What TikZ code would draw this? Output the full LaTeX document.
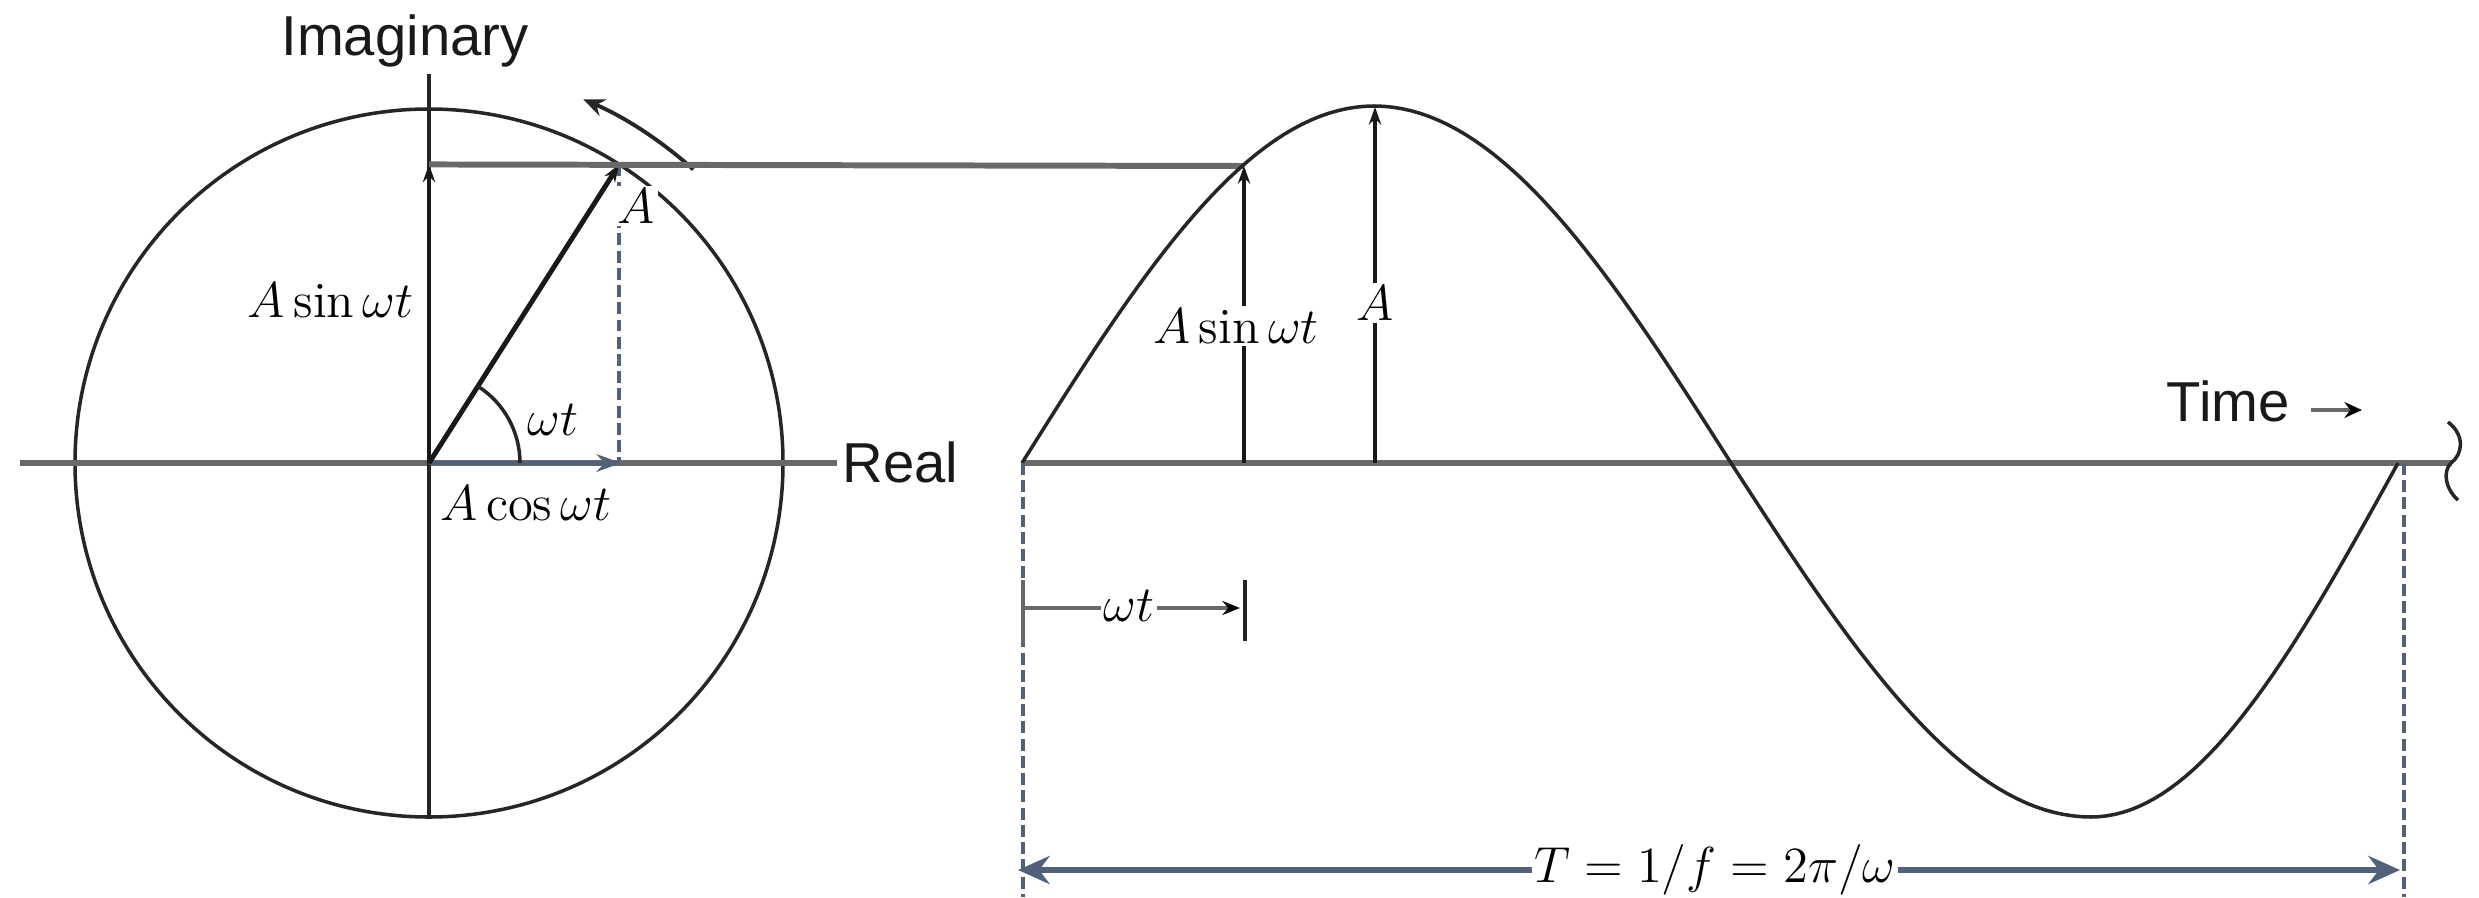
\documentclass[tikz,border=0pt]{standalone}
\usepackage{fontspec}
\newfontfamily\labelsans{Liberation Sans}
\usetikzlibrary{arrows.meta,calc}
\definecolor{slate}{RGB}{82,97,122}
\definecolor{axisgray}{RGB}{105,105,105}
\begin{document}
\begin{tikzpicture}[x=0.01cm,y=-0.01cm,
  thinline/.style={line width=1pt,black!85},
  vecline/.style={line width=1.2pt,black!90},
  axisline/.style={line width=1.7pt,axisgray},
  slateline/.style={line width=1.3pt,slate},
  dashline/.style={line width=1.2pt,slate,dash pattern=on 3.4pt off 1.5pt},
  mathlbl/.style={font=\fontsize{14.4}{17}\selectfont,inner sep=0.8pt},
  sanslbl/.style={font=\labelsans\fontsize{16}{19}\selectfont,inner sep=0pt,text=black!90},
  whitebg/.style={fill=white},
  smalltip/.style={-{Stealth[length=5pt,width=3.5pt]}}]
\useasboundingbox (0,0) rectangle (2479,897);

% ---------- phasor diagram ----------
\coordinate (O) at (429,463);
\coordinate (P) at ($(O)+(-57.5:354)$);
\coordinate (Py) at (O |- P);
\coordinate (Px) at (P |- O);
\coordinate (imtop) at (429,74);
\coordinate (imbot) at (429,817);
\coordinate (reL) at (20,463);
\coordinate (reR) at (837,463);

\draw[thinline] (O) circle[x radius=354,y radius=354];
\draw[axisline] (reL) -- (reR);
\draw[thinline] (imtop) -- (imbot);
\draw[dashline] (P) -- (Px);
\draw[slateline,-{Stealth[length=7pt,width=5pt]}] (O) -- ($(Px)+(2,0)$);
\draw[vecline,smalltip] (O) -- (Py);
\draw[vecline,line width=1.4pt,smalltip] (O) -- (P);
\draw[thinline] ($(O)+(91,0)$) arc[start angle=0,end angle=-57.5,radius=91];
\draw[thinline,line width=1.1pt,-{Stealth[length=6pt,width=5pt]}] ($(O)+(-48:395)$) arc[start angle=-48,end angle=-67,radius=395];

% ---------- sine wave ----------
\coordinate (s0) at (1022,463);
\coordinate (s1) at (1244,166);
\coordinate (s1b) at (1244,463);
\coordinate (pk) at (1375,107);
\coordinate (pkb) at (1375,463);
\coordinate (tEnd) at (2452,463);

\draw[axisline] (Py) -- (s1);
\draw[axisline] (s0) -- (tEnd);
\draw[thinline] plot[domain=0:90,samples=40] ({1022+\x/90*352},{463-357*sin(\x)})
  -- plot[domain=90:180,samples=40] ({1374+(\x-90)/90*357},{463-357*sin(\x)})
  -- plot[domain=180:270,samples=40] ({1731+(\x-180)/90*360},{463-354*sin(\x)})
  -- plot[domain=270:360,samples=40] ({2091+(\x-270)/90*307},{463-354*sin(\x)});
\draw[vecline,line width=1.1pt,smalltip] (s1b) -- (s1);
\draw[vecline,line width=1.1pt,smalltip] (pkb) -- (pk);

% break mark
\coordinate (b1) at (2448,422);
\coordinate (b2) at (2451,463);
\coordinate (b3) at (2458,500);
\draw[thinline] (b1) .. controls (2466,436) and (2462,455) .. (b2)
  .. controls (2442,472) and (2446,490) .. (b3);

% dashed period markers
\coordinate (dL0) at (1023,463);
\coordinate (dL1) at (1023,897);
\coordinate (dR0) at (2404,463);
\coordinate (dR1) at (2404,897);
\draw[dashline] (dL0) -- (dL1);
\draw[dashline] (dR0) -- (dR1);

% omega t dimension
\coordinate (wL) at (1023,608);
\coordinate (wR) at (1240,608);
\coordinate (wtk1) at (1245,580);
\coordinate (wtk2) at (1245,641);
\coordinate (wtl1) at (1023,580);
\coordinate (wtl2) at (1023,643);
\draw[axisline,line width=1.4pt] (wtl1) -- (wtl2);
\draw[thinline] (wtk1) -- (wtk2);
\draw[axisline,line width=1.4pt,-{Stealth[length=5pt,width=4pt,color=black]}] (wL) -- (wR);
\node[mathlbl,whitebg] (wtd) at (1129,606) {$\omega t$};

% period arrow
\coordinate (TL) at (1018,870);
\coordinate (TR) at (2400,870);
\draw[slateline,line width=1.6pt,{Stealth[length=9pt,width=8pt,inset=3pt]}-{Stealth[length=9pt,width=8pt,inset=3pt]}] (TL) -- (TR);
\node[mathlbl,whitebg,anchor=base] (Tlbl) at (1715,882) {$T=1/f=2\pi/\omega$};

% time arrow
\coordinate (ta0) at (2311,410);
\coordinate (ta1) at (2362,410);
\draw[axisline,line width=1.4pt,-{Stealth[length=5pt,width=4.5pt,color=black]}] (ta0) -- (ta1);

% ---------- labels ----------
\node[sanslbl,anchor=base] (imag) at (405,55) {Imaginary};
\node[sanslbl,anchor=base west] (real) at (842,482) {Real};
\node[sanslbl,anchor=base west] (time) at (2166,421) {Time};

\node[mathlbl,anchor=base east] (asinL) at (417,317) {$A\sin\omega t$};
\node[mathlbl,anchor=base west] (wt) at (524,435) {$\omega t$};
\node[mathlbl,anchor=base west] (acos) at (437,520) {$A\cos\omega t$};
\node[mathlbl,whitebg,anchor=base west] (Alab) at (614,223) {$A$};
\node[mathlbl,whitebg,anchor=base] (asinR) at (1236,343) {$A\sin\omega t$};
\node[mathlbl,whitebg,anchor=base] (Apk) at (1375,320) {$A$};
\end{tikzpicture}
\end{document}
